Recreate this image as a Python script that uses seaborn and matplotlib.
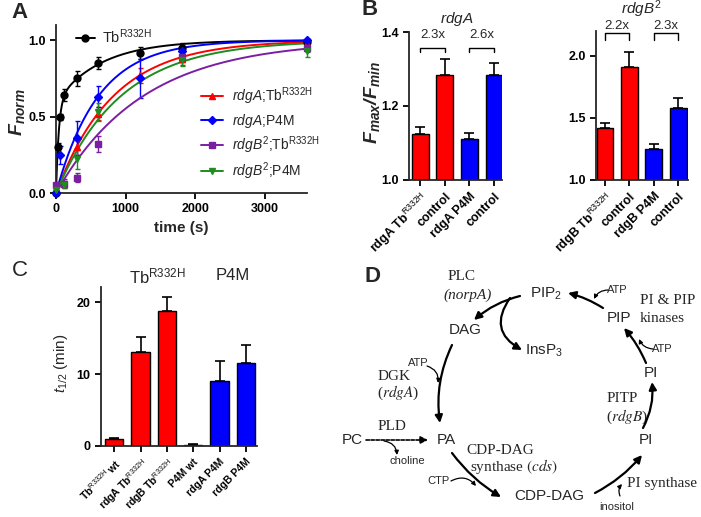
import numpy as np
import pandas as pd
import matplotlib
matplotlib.use("Agg")
import matplotlib.pyplot as plt
import seaborn as sns

# ---------------- Panel A data ----------------
tb_wt_t = [0, 30, 60, 120, 300, 600, 1200, 1800, 3600]
tb_wt_y = [0.0, 0.30, 0.50, 0.64, 0.75, 0.85, 0.915, 0.95, 0.99]
tb_wt_err = [0.0, 0.03, 0.02, 0.04, 0.05, 0.04, 0.04, 0.03, 0.02]

rdga_tb_t = [0, 120, 300, 600, 1200, 1800, 3600]
rdga_tb_y = [0.03, 0.06, 0.30, 0.52, 0.77, 0.88, 0.98]
rdga_tb_err = [0.01, 0.02, 0.05, 0.04, 0.05, 0.04, 0.02]

rdga_p4m_t = [0, 60, 300, 600, 1200, 1800, 3600]
rdga_p4m_y = [0.0, 0.25, 0.36, 0.63, 0.75, 0.93, 1.0]
rdga_p4m_err = [0.0, 0.06, 0.11, 0.07, 0.13, 0.03, 0.01]

rdgb_tb_t = [0, 120, 300, 600, 1800, 3600]
rdgb_tb_y = [0.05, 0.06, 0.10, 0.32, 0.89, 0.95]
rdgb_tb_err = [0.01, 0.03, 0.03, 0.05, 0.03, 0.03]

rdgb_p4m_t = [0, 120, 300, 600, 1800, 3600]
rdgb_p4m_y = [0.02, 0.05, 0.22, 0.53, 0.87, 0.93]
rdgb_p4m_err = [0.01, 0.02, 0.06, 0.06, 0.04, 0.04]

# fitted association curves: (fast fraction, tau fast [s], tau slow [s])
fit_tb_wt = (0.60, 40, 650)
fit_rdga_tb = (0.0, 1, 817)
fit_rdga_p4m = (0.0, 1, 604)
fit_rdgb_tb = (0.0, 1, 1241)
fit_rdgb_p4m = (0.0, 1, 923)

# ---------------- Panel B data ----------------
b_rdga_labels = ["rdgA Tb$^{\\rm R332H}$", "control", "rdgA P4M", "control"]
b_rdga_vals = [1.125, 1.284, 1.110, 1.283]
b_rdga_err = [0.018, 0.043, 0.016, 0.033]
b_rdga_folds = ["2.3x", "2.6x"]

b_rdgb_labels = ["rdgB Tb$^{\\rm R332H}$", "control", "rdgB P4M", "control"]
b_rdgb_vals = [1.419, 1.909, 1.247, 1.578]
b_rdgb_err = [0.038, 0.121, 0.041, 0.081]
b_rdgb_folds = ["2.2x", "2.3x"]

b_colors = ["#FF0000", "#FF0000", "#0000FF", "#0000FF"]

# ---------------- Panel C data ----------------
c_labels = ["Tb$^{\\rm R332H}$ wt", "rdgA Tb$^{\\rm R332H}$", "rdgB Tb$^{\\rm R332H}$",
            "P4M wt", "rdgA P4M", "rdgB P4M"]
c_vals = [1.0, 13.1, 18.7, 0.2, 9.0, 11.6]
c_err = [0.15, 2.1, 2.0, 0.05, 2.85, 2.5]
c_colors = ["#FF0000", "#FF0000", "#FF0000", "#0000FF", "#0000FF", "#0000FF"]

# ---------------- style ----------------
sns.set_style("ticks")
plt.rcParams["font.family"] = ["Liberation Sans", "DejaVu Sans"]
plt.rcParams["mathtext.fontset"] = "custom"
plt.rcParams["mathtext.rm"] = "Liberation Sans"
plt.rcParams["mathtext.it"] = "Liberation Sans:italic"
plt.rcParams["mathtext.bf"] = "Liberation Sans:bold"
plt.rcParams["mathtext.bfit"] = "Liberation Sans:bold:italic"
plt.rcParams["axes.linewidth"] = 1.3

W, H = 701, 517
fig = plt.figure(figsize=(W / 100, H / 100), dpi=100)


def add_ax(x0, y0, x1, y1):
    return fig.add_axes([x0 / W, 1 - y1 / H, (x1 - x0) / W, (y1 - y0) / H])


def ftext(x, y, s, **kw):
    fig.text(x / W, 1 - y / H, s, **kw)


def style_ax(ax, xsize=9):
    sns.despine(ax=ax)
    ax.tick_params(direction="out", length=4, width=1.3, labelsize=9, colors="black")
    ax.tick_params(axis="x", labelsize=xsize)
    for lab in ax.get_xticklabels() + ax.get_yticklabels():
        lab.set_fontweight("bold")


# ================= Panel A =================
axA = add_ax(56, 25, 307, 193)
t_fine = np.linspace(0, 3600, 500)


def model(p):
    f, t1, t2 = p
    return 1 - f * np.exp(-t_fine / t1) - (1 - f) * np.exp(-t_fine / t2)


series = [
    ("Tb$^{\\rm R332H}$", tb_wt_t, tb_wt_y, tb_wt_err, fit_tb_wt, "black", "o"),
    ("$rdgA$;Tb$^{\\rm R332H}$", rdga_tb_t, rdga_tb_y, rdga_tb_err, fit_rdga_tb, "#FF0000", "^"),
    ("$rdgA$;P4M", rdga_p4m_t, rdga_p4m_y, rdga_p4m_err, fit_rdga_p4m, "#0000FF", "D"),
    ("$rdgB^{\\rm 2}$;Tb$^{\\rm R332H}$", rdgb_tb_t, rdgb_tb_y, rdgb_tb_err, fit_rdgb_tb, "#7B1FA2", "s"),
    ("$rdgB^{\\rm 2}$;P4M", rdgb_p4m_t, rdgb_p4m_y, rdgb_p4m_err, fit_rdgb_p4m, "#1E8C1E", "v"),
]
handles = []
for name, t, y, e, p, col, mk in series:
    sns.lineplot(x=t_fine, y=model(p), color=col, lw=1.4, ax=axA)
    axA.errorbar(t, y, yerr=e, fmt="none", ecolor=col, elinewidth=1.0, capsize=1.8, clip_on=False)
    ms = 4 if mk == "D" else 5
    axA.plot(t, y, ls="none", marker=mk, color=col, ms=ms, clip_on=False, zorder=5)
    h, = axA.plot([], [], color=col, marker=mk, ms=ms, lw=1.4)
    handles.append((h, name))

axA.set_xlim(0, 3600)
axA.set_ylim(0, 1.1)
axA.set_xticks([0, 1000, 2000, 3000])
axA.set_yticks([0.0, 0.5, 1.0])
axA.set_yticklabels(["0.0", "0.5", "1.0"])
axA.set_xlabel("")
axA.set_ylabel("")
style_ax(axA)
leg1 = axA.legend([handles[0][0]], [handles[0][1]], loc="upper left", bbox_to_anchor=(0.05, 1.03),
                  frameon=False, fontsize=10.5, handlelength=1.3, handletextpad=0.5, borderpad=0)
axA.add_artist(leg1)
axA.legend([h for h, _ in handles[1:]], [n for _, n in handles[1:]], loc="upper left",
           bbox_to_anchor=(0.55, 0.68), frameon=False, fontsize=10, handlelength=1.6,
           handletextpad=0.6, borderpad=0, labelspacing=0.32)
ftext(181, 228, "time (s)", fontsize=11, fontweight="bold", ha="center", va="center")
ftext(17, 112, "$\\mathbfit{F_{norm}}$", fontsize=14, rotation=90, ha="center", va="center")
ftext(20, 12, "A", fontsize=16, fontweight="bold", ha="center", va="center")

# ================= Panel B =================
def bar_panel(ax, labels, vals, errs, folds, ylim, yticks, ytl, bracket_y, tick_y, text_y, title, title_y, xlim):
    pos = [str(i) for i in range(len(vals))]
    sns.barplot(x=pos, y=vals, hue=pos, palette=b_colors, width=0.69, edgecolor="black",
                linewidth=1.0, legend=False, ax=ax, saturation=1)
    ax.errorbar(range(len(vals)), vals, yerr=[np.zeros(len(vals)), errs], fmt="none",
                ecolor="black", elinewidth=1.2, capsize=3.5, capthick=1.2)
    ax.set_ylim(*ylim)
    ax.set_xlim(*xlim)
    ax.set_yticks(yticks)
    ax.set_yticklabels(ytl)
    ax.set_xticks(range(len(vals)))
    ax.set_xticklabels(labels, rotation=45, ha="right", rotation_mode="anchor")
    ax.set_xlabel("")
    ax.set_ylabel("")
    style_ax(ax)
    for k, f in enumerate(folds):
        x0, x1 = 2 * k, 2 * k + 1
        ax.plot([x0, x0, x1, x1], [tick_y, bracket_y, bracket_y, tick_y], color="black", lw=1.0, clip_on=False)
        ax.text((x0 + x1) / 2, text_y, f, ha="center", va="center", fontsize=9.5, clip_on=False)
    ax.text(1.5, title_y, title, ha="center", va="center", fontsize=11, clip_on=False)


axB1 = add_ax(409, 32, 502, 180)
bar_panel(axB1, b_rdga_labels, b_rdga_vals, b_rdga_err, b_rdga_folds, (1.0, 1.4),
          [1.0, 1.2, 1.4], ["1.0", "1.2", "1.4"], 1.357, 1.345, 1.393, "$rdgA$", 1.435, (-0.45, 3.32))
axB2 = add_ax(596, 31, 688, 180)
bar_panel(axB2, b_rdgb_labels, b_rdgb_vals, b_rdgb_err, b_rdgb_folds, (1.0, 2.2),
          [1.0, 1.5, 2.0], ["1.0", "1.5", "2.0"], 2.183, 2.13, 2.24, "$rdgB^{\\rm 2}$", 2.375, (-0.37, 3.4))
ftext(372, 102, "$\\mathbfit{F_{max}/F_{min}}$", fontsize=14, rotation=90, ha="center", va="center")
ftext(370, 9, "B", fontsize=16, fontweight="bold", ha="center", va="center")

# ================= Panel C =================
axC = add_ax(101, 287, 257, 446)
posC = [str(i) for i in range(len(c_vals))]
sns.barplot(x=posC, y=c_vals, hue=posC, palette=c_colors, width=0.69, edgecolor="black",
            linewidth=1.0, legend=False, ax=axC, saturation=1)
axC.errorbar(range(len(c_vals)), c_vals, yerr=[np.zeros(len(c_vals)), c_err], fmt="none",
             ecolor="black", elinewidth=1.2, capsize=3.5, capthick=1.2)
axC.set_ylim(0, 22.1)
axC.set_xlim(-0.5, 5.42)
axC.set_yticks([0, 10, 20])
axC.set_xticks(range(len(c_vals)))
axC.set_xticklabels(c_labels, rotation=45, ha="right", rotation_mode="anchor")
axC.set_xlabel("")
axC.set_ylabel("")
style_ax(axC, xsize=7.5)
ftext(157, 276, "Tb$^{\\rm R332H}$", fontsize=12, ha="center", va="center")
ftext(233, 276, "P4M", fontsize=12, ha="center", va="center")
ftext(61, 363, "$t_{\\rm 1/2}$ (min)", fontsize=11, rotation=90, ha="center", va="center")
ftext(20, 271, "C", fontsize=16, ha="center", va="center")

# ================= Panel D (pathway diagram) =================
axD = fig.add_axes([0, 0, 1, 1], zorder=-1)
axD.set_xlim(0, W)
axD.set_ylim(H, 0)
axD.axis("off")

sans_nodes = [("PIP$_{\\rm 2}$", 546, 294), ("DAG", 465, 330), ("InsP$_{\\rm 3}$", 544, 351),
              ("PIP", 619, 318), ("PI", 651, 373), ("PI", 646, 440), ("PA", 446, 440),
              ("PC", 352, 440), ("CDP-DAG", 549, 496)]
for s, x, y in sans_nodes:
    axD.text(x, y, s, ha="center", va="center", fontsize=11)

small_labels = [("ATP", 617, 290), ("ATP", 662, 349), ("ATP", 418, 363), ("choline", 407, 461),
                ("CTP", 439, 481), ("inositol", 617, 507)]
for s, x, y in small_labels:
    axD.text(x, y, s, ha="center", va="center", fontsize=8)

serif = dict(family=["Liberation Serif", "DejaVu Serif"], math_fontfamily="stix", fontsize=11)
axD.text(462, 276, "PLC", ha="center", va="center", **serif)
axD.text(468, 295, "(norpA)", ha="center", va="center", style="italic", **serif)
axD.text(640, 301, "PI & PIP", ha="left", va="center", **serif)
axD.text(640, 318, "kinases", ha="left", va="center", **serif)
axD.text(394, 377, "DGK", ha="center", va="center", **serif)
axD.text(398, 393, "($rdgA$)", ha="center", va="center", **serif)
axD.text(622, 398, "PITP", ha="center", va="center", **serif)
axD.text(627, 417, "($rdgB$)", ha="center", va="center", **serif)
axD.text(392, 426, "PLD", ha="center", va="center", **serif)
axD.text(466, 450, "CDP-DAG", ha="left", va="center", **serif)
axD.text(470, 467, "synthase $(cds)$", ha="left", va="center", **serif)
axD.text(627, 483, "PI synthase", ha="left", va="center", **serif)


def arrow(p0, p1, rad=0.0, lw=1.6, ms=11, ls="-"):
    axD.annotate("", xy=p1, xytext=p0,
                 arrowprops=dict(arrowstyle="-|>", color="black", lw=lw, linestyle=ls,
                                 mutation_scale=ms, shrinkA=0, shrinkB=0,
                                 connectionstyle=f"arc3,rad={rad}"))


# main cycle arrows
arrow((520, 296), (474, 320), rad=0.12)
arrow((510, 298), (522, 350), rad=0.55)
arrow((452, 345), (440, 423), rad=0.15)
arrow((452, 453), (501, 497), rad=0.1)
arrow((595, 493), (642, 455), rad=0.1)
arrow((643, 428), (652, 382), rad=0.15)
arrow((646, 363), (624, 328), rad=0.08)
arrow((603, 308), (568, 293), rad=0.08)
arrow((366, 440), (428, 440), rad=0.0, ls=(0, (2, 1)), lw=1.2)
# small co-substrate arrows
arrow((608, 290), (594, 299), rad=0.3, lw=0.9, ms=6)
arrow((653, 349), (639, 339), rad=-0.3, lw=0.9, ms=6)
arrow((427, 366), (438, 383), rad=-0.4, lw=0.9, ms=6)
arrow((384, 441), (397, 455), rad=-0.4, lw=0.9, ms=6)
arrow((451, 481), (476, 486), rad=-0.4, lw=0.9, ms=6)
arrow((620, 496), (622, 484), rad=-0.3, lw=0.9, ms=6)

fig.text(373 / W, 1 - 277 / H, "D", fontsize=16, fontweight="bold", ha="center", va="center")

fig.savefig("out.png", dpi=100)
